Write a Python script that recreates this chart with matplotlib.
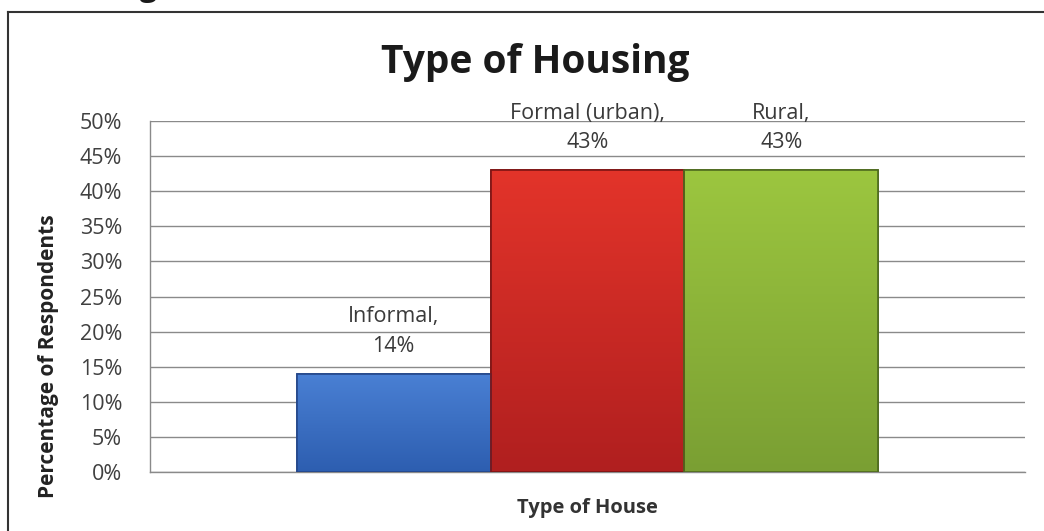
import numpy as np
import matplotlib.pyplot as plt
from matplotlib.colors import LinearSegmentedColormap
from matplotlib.lines import Line2D

plt.rcParams['font.family'] = ['Open Sans', 'DejaVu Sans']

categories = ['Informal', 'Formal (urban)', 'Rural']
values = [14, 43, 43]
yticks = [0, 5, 10, 15, 20, 25, 30, 35, 40, 45, 50]

# light top -> darker bottom for each bar
shades = [('#4a80d4', '#2d5eb0', '#24478a'),
          ('#e3342a', '#b01f1f', '#7e1414'),
          ('#9cc63f', '#7a9f33', '#4e6a1e')]

fig = plt.figure(figsize=(10.44, 5.31), dpi=100)
ax = fig.add_axes([0.1437, 0.1111, 0.8381, 0.661])

x = np.arange(len(categories))
bars = ax.bar(x, values, width=1.0, zorder=3, linewidth=1.2)

grad = np.linspace(0, 1, 256).reshape(-1, 1)
for b, (top, bot, edge) in zip(bars, shades):
    b.set_facecolor(bot)
    b.set_edgecolor(edge)
    cmap = LinearSegmentedColormap.from_list('g', [bot, top])
    x0, w, h = b.get_x(), b.get_width(), b.get_height()
    im = ax.imshow(grad, cmap=cmap, aspect='auto', origin='lower',
                   extent=[x0, x0 + w, 0, h], zorder=3.5)
    im.set_clip_path(b)
    # thin bevel highlight along the top edge
    ax.plot([x0 + 0.02, x0 + w - 0.02], [h - 0.35, h - 0.35],
            color=top, lw=2, alpha=0.8, zorder=4, solid_capstyle='butt')
    ax.bar(x0 + w / 2, h, width=w, facecolor='none', edgecolor=edge,
           linewidth=1.2, zorder=4.5)

for xi, cat, v in zip(x, categories, values):
    ax.annotate('{},\n{}%'.format(cat, v), (xi, v), xytext=(0, 12),
                textcoords='offset points', ha='center', va='bottom',
                fontsize=15.5, color='#3a3a3a', linespacing=1.55, zorder=5)

ax.set_xlim(-1.257, 3.257)
ax.set_ylim(0, 50)
ax.set_yticks(yticks)
ax.set_yticklabels(['{}%'.format(t) for t in yticks], fontsize=15.5, color='#404040')
ax.set_xticks([])
ax.tick_params(axis='y', length=0, pad=20)
ax.yaxis.grid(True, color='#8a8a8a', linewidth=1.0, zorder=0)
ax.set_axisbelow(True)
for s in ['top', 'right']:
    ax.spines[s].set_visible(False)
for s in ['left', 'bottom']:
    ax.spines[s].set_color('#8a8a8a')
    ax.spines[s].set_linewidth(1.0)

ax.set_xlabel('Type of House', fontsize=14.5, fontweight='bold', color='#333333')
ax.xaxis.set_label_coords(0.5, -0.073)
ax.set_ylabel('Percentage of Respondents', fontsize=15, fontweight='bold', color='#222222')
ax.yaxis.set_label_coords(-0.104, 0.33)

fig.text(535 / 1044, 1 - 62 / 531, 'Type of Housing', ha='center', va='center',
         fontsize=28, fontweight='bold', color='#1a1a1a')

# outer frame around the chart
fig.add_artist(Line2D([8 / 1044, 8 / 1044], [0, 1 - 12 / 531], color='#333333', lw=1.5))
fig.add_artist(Line2D([8 / 1044, 1], [1 - 12 / 531, 1 - 12 / 531], color='#333333', lw=1.5))
# heading above the frame, only its descenders fall inside the page
fig.text(157 / 1044, 1 + 4 / 531, 'Housing', ha='right', va='baseline',
         fontsize=22, fontweight='bold', color='#1a1a1a')

fig.savefig('out.png', dpi=100, facecolor='white')
